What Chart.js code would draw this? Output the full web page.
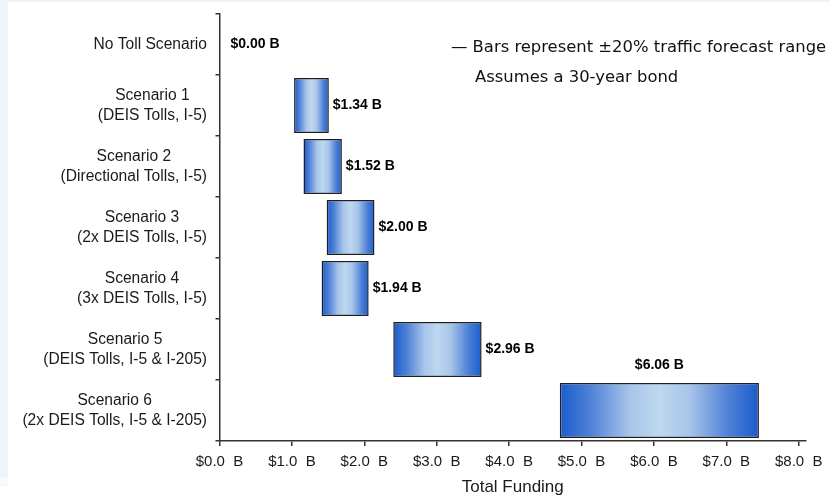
<!DOCTYPE html>
<html>
<head>
<meta charset="utf-8">
<script src="https://cdn.jsdelivr.net/npm/chart.js@4.4.1/dist/chart.umd.min.js"></script>
<style>
  html, body { margin: 0; padding: 0; background: #ffffff; }
  #wrap { width: 830px; height: 499px; position: relative; }
</style>
</head>
<body>
<div id="wrap"><canvas id="c" width="830" height="499"></canvas></div>
<script>
// ---- Data ----
const categories = [
  ["No Toll Scenario"],
  ["Scenario 1", "(DEIS Tolls, I-5)"],
  ["Scenario 2", "(Directional Tolls, I-5)"],
  ["Scenario 3", "(2x DEIS Tolls, I-5)"],
  ["Scenario 4", "(3x DEIS Tolls, I-5)"],
  ["Scenario 5", "(DEIS Tolls, I-5 & I-205)"],
  ["Scenario 6", "(2x DEIS Tolls, I-5 & I-205)"]
];
const lowValues  = [null, 1.03, 1.16, 1.48, 1.41, 2.40, 4.70];
const highValues = [null, 1.51, 1.69, 2.14, 2.06, 3.62, 7.45];
const pointValues = [0.00, 1.34, 1.52, 2.00, 1.94, 2.96, 6.06];
const xTickMin = 0, xTickMax = 8.1, xTickStep = 1;
const noteLines = ["\u2014 Bars represent \u00b120% traffic forecast range", "Assumes a 30-year bond"];
const xTitle = "Total Funding";

const ranges = lowValues.map((lo, i) => (lo === null ? null : [lo, highValues[i]]));
const fmtValue = v => "$" + v.toFixed(2) + " B";
const fmtTick = v => "$" + Number(v).toFixed(1) + "  B";

function barGradient(ctx) {
  const chart = ctx.chart;
  if (!chart.chartArea || ctx.type !== 'data') return '#5d8fdc';
  const r = ranges[ctx.dataIndex];
  if (!r) return '#5d8fdc';
  const xs = chart.scales.x;
  const x0 = xs.getPixelForValue(r[0]), x1 = xs.getPixelForValue(r[1]);
  const g = chart.ctx.createLinearGradient(x0, 0, x1, 0);
  g.addColorStop(0, '#1a5ccc');
  g.addColorStop(0.15, '#4d80d6');
  g.addColorStop(0.35, '#a8c5ea');
  g.addColorStop(0.5, '#bed8f0');
  g.addColorStop(0.65, '#a8c5ea');
  g.addColorStop(0.85, '#4d80d6');
  g.addColorStop(1, '#1a5ccc');
  return g;
}

const bgPlugin = {
  id: 'bg',
  beforeDraw(chart) {
    const c = chart.ctx;
    c.save();
    c.fillStyle = '#ffffff';
    c.fillRect(0, 0, chart.width, chart.height);
    c.fillStyle = '#f0f5fb';
    c.fillRect(0, 0, chart.width, 2);
    c.fillRect(0, 0, 8, 477);
    c.fillStyle = '#f7fafd';
    c.fillRect(0, 477, 8, 10);
    c.restore();
  }
};

const labelPlugin = {
  id: 'labels',
  afterDraw(chart) {
    const c = chart.ctx;
    const ys = chart.scales.y, xs = chart.scales.x;
    c.save();
    // category labels: block right-aligned, lines centred within block
    c.font = '15.6px "Liberation Sans", Arial, sans-serif';
    c.fillStyle = '#1a1a1a';
    c.textAlign = 'center';
    c.textBaseline = 'middle';
    const rightEdge = ys.right - 12.5;
    categories.forEach((lines, i) => {
      const y = ys.getPixelForValue(i);
      const w = Math.max(...lines.map(l => c.measureText(l).width));
      const cx = rightEdge - w / 2;
      lines.forEach((l, j) => {
        c.fillText(l, cx, y + (j - (lines.length - 1) / 2) * 20);
      });
    });
    // value labels
    c.font = 'bold 14px "Liberation Sans", Arial, sans-serif';
    c.fillStyle = '#000000';
    const meta = chart.getDatasetMeta(0);
    const last = pointValues.length - 1;
    pointValues.forEach((v, i) => {
      const y = ys.getPixelForValue(i);
      const r = ranges[i];
      if (!r) {
        c.textAlign = 'left';
        c.fillText(fmtValue(v), xs.getPixelForValue(0) + 11, y);
      } else if (i === last) {
        const el = meta.data[i];
        c.textAlign = 'center';
        const top = el.y - el.height / 2;
        c.fillText(fmtValue(v), (xs.getPixelForValue(r[0]) + xs.getPixelForValue(r[1])) / 2, top - 18);
      } else {
        c.textAlign = 'left';
        c.fillText(fmtValue(v), xs.getPixelForValue(r[1]) + 4, y);
      }
    });
    // notes
    c.font = '16.4px "DejaVu Sans", Verdana, sans-serif';
    c.fillStyle = '#111111';
    c.textAlign = 'left';
    c.fillText(noteLines[0], 451, 48);
    c.fillText(noteLines[1], 475, 78);
    c.restore();
  }
};

new Chart(document.getElementById('c'), {
  type: 'bar',
  data: {
    labels: categories,
    datasets: [{
      data: ranges,
      backgroundColor: barGradient,
      borderColor: '#1e1e1e',
      borderWidth: 1.5,
      borderSkipped: false,
      categoryPercentage: 1.0,
      barPercentage: 0.9
    }]
  },
  options: {
    indexAxis: 'y',
    responsive: false,
    animation: false,
    layout: { padding: { left: 0, top: 14, right: 24, bottom: 0 } },
    plugins: { legend: { display: false }, tooltip: { enabled: false } },
    scales: {
      x: {
        type: 'linear',
        min: xTickMin,
        max: xTickMax,
        border: { display: true, color: '#333333', width: 1.5 },
        grid: { drawOnChartArea: false, drawTicks: true, tickLength: 5, color: '#333333', lineWidth: 1.5 },
        ticks: {
          stepSize: xTickStep,
          includeBounds: false,
          padding: 7,
          maxRotation: 0,
          autoSkip: false,
          color: '#1a1a1a',
          font: { family: '"Liberation Sans", Arial, sans-serif', size: 15 },
          callback: v => fmtTick(v)
        },
        title: {
          display: true,
          text: xTitle,
          color: '#1a1a1a',
          font: { family: '"Liberation Sans", Arial, sans-serif', size: 17 },
          padding: { top: 0, bottom: 1 }
        },
        afterFit: s => { s.height = 58; }
      },
      y: {
        type: 'category',
        offset: true,
        border: { display: true, color: '#333333', width: 1.5 },
        grid: { offset: true, drawOnChartArea: false, drawTicks: true, tickLength: 4, color: '#333333', lineWidth: 1.5 },
        ticks: { display: false },
        afterFit: s => { s.width = 219.5; }
      }
    }
  },
  plugins: [bgPlugin, labelPlugin]
});
</script>
</body>
</html>
